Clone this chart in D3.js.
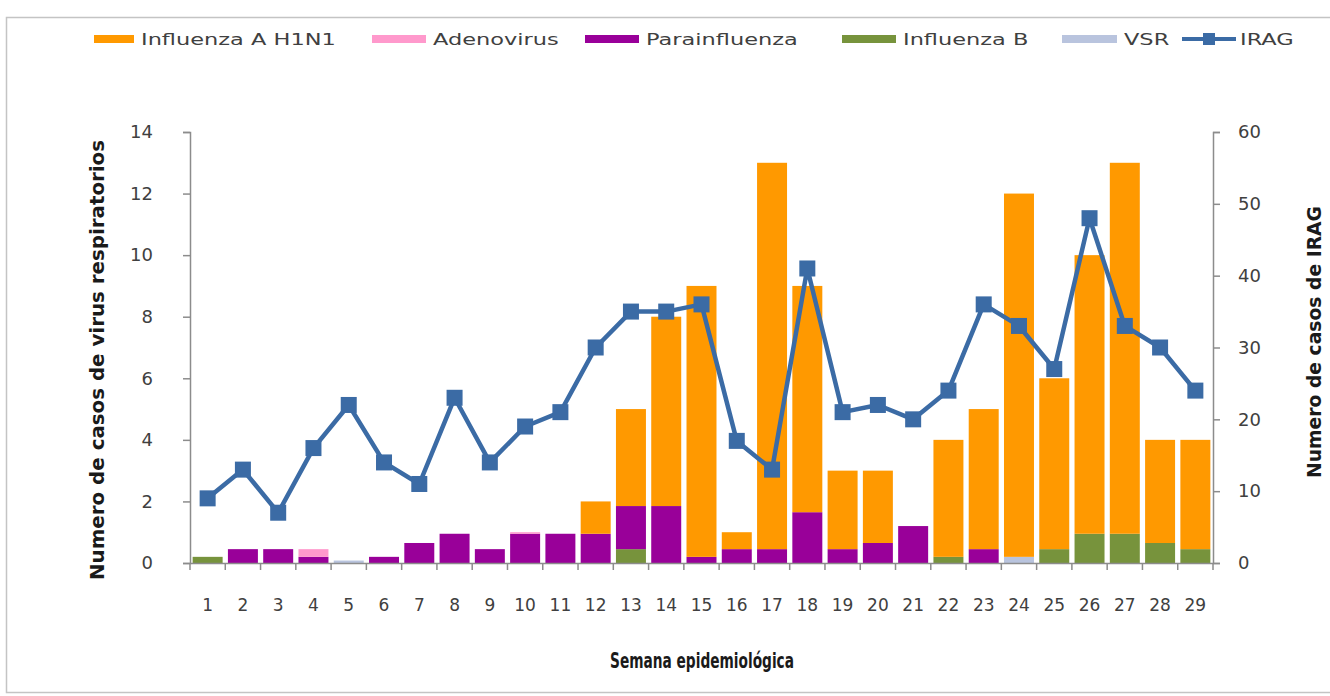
<!DOCTYPE html>
<html>
<head>
<meta charset="utf-8">
<script src="https://cdn.jsdelivr.net/npm/d3@7"></script>
<style>
  body { margin: 0; background: #fff; }
  svg { display: block; }
</style>
</head>
<body>
<div id="chart"></div>
<script>
// semanas epidemiologicas
var weeks = ["1","2","3","4","5","6","7","8","9","10","11","12","13","14","15",
             "16","17","18","19","20","21","22","23","24","25","26","27","28","29"];

// casos de virus respiratorios (eje izquierdo), segmentos apilados
var vsr   = [0,0,0,0,0.08,0,0,0,0,0,0,0,0,0,0,0,0,0,0,0,0,0,0,0.2,0,0,0,0,0];
var fluB  = [0.2,0,0,0,0,0,0,0,0,0,0,0,0.45,0,0,0,0,0,0,0,0,0.2,0,0,0.45,0.95,0.95,0.65,0.45];
var para  = [0,0.45,0.45,0.2,0,0.2,0.65,0.95,0.45,0.95,0.95,0.95,1.4,1.85,0.2,0.45,0.45,1.65,0.45,0.65,1.2,0,0.45,0,0,0,0,0,0];
var adeno = [0,0,0,0.25,0,0,0,0,0,0.05,0,0,0,0,0,0,0,0,0,0,0,0,0,0,0,0,0,0,0];
var h1n1  = [0,0,0,0,0,0,0,0,0,0,0,1.05,3.15,6.15,8.8,0.55,12.55,7.35,2.55,2.35,0,3.8,4.55,11.8,5.55,9.05,12.05,3.35,3.55];

// casos de IRAG (eje derecho)
var irag  = [9,13,7,16,22,14,11,23,14,19,21,30,35,35,36,17,13,41,21,22,20,24,36,33,27,48,33,30,24];

var leftTicks  = [0,2,4,6,8,10,12,14];
var rightTicks = [0,10,20,30,40,50,60];

var seriesNames  = ["Influenza A H1N1","Adenovirus","Parainfluenza","Influenza B","VSR"];
var seriesColors = ["#ff9900","#ff99cc","#990099","#77933c","#b9c4de"];
var lineColor = "#3b6ba5";

var W = 1330, H = 696;
var x0 = 190, x1 = 1213, yBase = 563, yTop = 132;

var svg = d3.select("#chart").append("svg")
    .attr("width", W).attr("height", H);

// marco
svg.append("rect")
    .attr("x", 6.5).attr("y", 17.5)
    .attr("width", 1340).attr("height", 675)
    .attr("fill", "#fff")
    .attr("stroke", "#c4c4c4")
    .attr("stroke-width", 1.5);

var x = d3.scaleBand()
    .domain(weeks)
    .range([x0, x1])
    .paddingInner(0.15)
    .paddingOuter(0.075);

var y = d3.scaleLinear().domain([0, 14]).range([yBase, yTop]);
var y2 = d3.scaleLinear().domain([0, 60]).range([yBase, yTop]);

// tabla para apilar
var table = weeks.map(function(w, i) {
    return { week: w, vsr: vsr[i], fluB: fluB[i], para: para[i], adeno: adeno[i], h1n1: h1n1[i] };
});
var keys = ["vsr","fluB","para","adeno","h1n1"];
var keyColor = { vsr: seriesColors[4], fluB: seriesColors[3], para: seriesColors[2], adeno: seriesColors[1], h1n1: seriesColors[0] };

var stack = d3.stack().keys(keys)(table);

svg.append("g").selectAll("g")
    .data(stack)
    .enter().append("g")
        .attr("fill", function(d) { return keyColor[d.key]; })
    .selectAll("rect")
    .data(function(d) { return d; })
    .enter().append("rect")
        .attr("x", function(d) { return x(d.data.week); })
        .attr("y", function(d) { return y(d[1]); })
        .attr("width", x.bandwidth())
        .attr("height", function(d) { return y(d[0]) - y(d[1]); });

// ejes
var axisColor = "#8c8c8c";
var labelColor = "#404040";

var yAxisGroup = svg.append("g")
    .attr("transform", "translate(" + x0 + ",0)")
    .call(d3.axisLeft(y).tickValues(leftTicks).tickSize(7).tickPadding(30));

var y2AxisGroup = svg.append("g")
    .attr("transform", "translate(" + x1 + ",0)")
    .call(d3.axisRight(y2).tickValues(rightTicks).tickSize(7).tickPadding(18));

var xAxisGroup = svg.append("g")
    .attr("transform", "translate(0," + yBase + ")")
    .call(d3.axisBottom(x).tickSize(0).tickPadding(36));

// marcas del eje x en los limites de cada semana
var bounds = d3.range(weeks.length + 1).map(function(i) { return x0 + i * (x1 - x0) / weeks.length; });
xAxisGroup.selectAll(".bound")
    .data(bounds)
    .enter().append("line")
        .attr("class", "bound")
        .attr("x1", function(d) { return d; })
        .attr("x2", function(d) { return d; })
        .attr("y1", 0).attr("y2", 7)
        .attr("stroke", axisColor)
        .attr("stroke-width", 1.5);

[yAxisGroup, y2AxisGroup, xAxisGroup].forEach(function(g) {
    g.select(".domain").attr("stroke", axisColor).attr("stroke-width", 1.5);
    g.selectAll(".tick line").attr("stroke", axisColor).attr("stroke-width", 1.5);
    g.selectAll(".tick text")
        .attr("fill", labelColor)
        .attr("font-family", "DejaVu Sans, Verdana, sans-serif")
        .attr("font-size", "18px");
});
xAxisGroup.selectAll(".tick text").attr("font-size", "17px");

// linea IRAG
var line = d3.line()
    .x(function(d, i) { return x(weeks[i]) + x.bandwidth() / 2; })
    .y(function(d) { return y2(d); });

svg.append("path")
    .datum(irag)
    .attr("fill", "none")
    .attr("stroke", lineColor)
    .attr("stroke-width", 4.5)
    .attr("stroke-linejoin", "round")
    .attr("d", line);

var mk = 16;
svg.append("g").selectAll("rect")
    .data(irag)
    .enter().append("rect")
        .attr("x", function(d, i) { return x(weeks[i]) + x.bandwidth() / 2 - mk / 2; })
        .attr("y", function(d) { return y2(d) - mk / 2; })
        .attr("width", mk).attr("height", mk)
        .attr("fill", lineColor);

// titulos de ejes
var titleFont = "DejaVu Sans Condensed, DejaVu Sans, sans-serif";

svg.append("text")
    .attr("transform", "translate(104,360) rotate(-90)")
    .attr("text-anchor", "middle")
    .attr("font-family", titleFont)
    .attr("font-weight", "bold")
    .attr("font-size", "20px")
    .attr("fill", "#1a1a1a")
    .attr("textLength", 440)
    .attr("lengthAdjust", "spacingAndGlyphs")
    .text("Numero de casos de virus respiratorios");

svg.append("text")
    .attr("transform", "translate(1321,342) rotate(-90)")
    .attr("text-anchor", "middle")
    .attr("font-family", titleFont)
    .attr("font-weight", "bold")
    .attr("font-size", "20px")
    .attr("fill", "#1a1a1a")
    .attr("textLength", 272)
    .attr("lengthAdjust", "spacingAndGlyphs")
    .text("Numero de casos de IRAG");

svg.append("text")
    .attr("x", 702).attr("y", 668)
    .attr("text-anchor", "middle")
    .attr("font-family", titleFont)
    .attr("font-weight", "bold")
    .attr("font-size", "21px")
    .attr("fill", "#1a1a1a")
    .attr("textLength", 184)
    .attr("lengthAdjust", "spacingAndGlyphs")
    .text("Semana epidemiológica");

// leyenda
var legendX = [94, 372, 585, 842, 1062];
var legendW = [40, 54, 54, 54, 55];
var legendY = 39;

var legend = svg.append("g");
seriesNames.forEach(function(name, i) {
    legend.append("rect")
        .attr("x", legendX[i]).attr("y", legendY - 4)
        .attr("width", legendW[i]).attr("height", 8)
        .attr("fill", seriesColors[i]);
    legend.append("text")
        .attr("transform", "translate(" + (legendX[i] + legendW[i] + 7) + "," + (legendY + 6) + ") scale(1.45,1)")
        .attr("font-family", "DejaVu Sans, Verdana, sans-serif")
        .attr("font-size", "15.5px")
        .attr("fill", labelColor)
        .text(name);
});

legend.append("line")
    .attr("x1", 1182).attr("x2", 1236)
    .attr("y1", legendY).attr("y2", legendY)
    .attr("stroke", lineColor).attr("stroke-width", 4);
legend.append("rect")
    .attr("x", 1209 - 6).attr("y", legendY - 6)
    .attr("width", 12).attr("height", 12)
    .attr("fill", lineColor);
legend.append("text")
    .attr("transform", "translate(1240," + (legendY + 6) + ") scale(1.45,1)")
    .attr("font-family", "DejaVu Sans, Verdana, sans-serif")
    .attr("font-size", "15.5px")
    .attr("fill", labelColor)
    .text("IRAG");
</script>
</body>
</html>
